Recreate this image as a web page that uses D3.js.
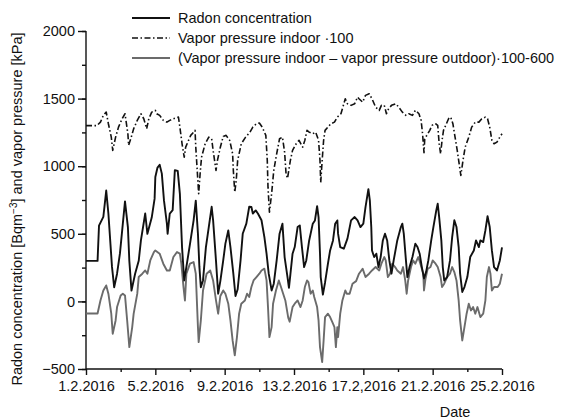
<!DOCTYPE html>
<html>
<head>
<meta charset="utf-8">
<script src="https://cdn.jsdelivr.net/npm/d3@7"></script>
<style>
  body { margin: 0; background: #fff; }
  svg text { font-family: "Liberation Sans", Arial, sans-serif; fill: #111; }
</style>
</head>
<body>
<svg width="577" height="420"></svg>
<script>
// [day of February 2016, value]
const radon = [[1,300],[1.69,300],[1.75,560],[2.04,625],[2.19,820],[2.33,650],[2.52,255],[2.66,105],[2.81,205],[2.96,355],[3.15,575],[3.29,740],[3.42,550],[3.54,300],[3.63,80],[3.87,205],[4.06,300],[4.19,450],[4.44,650],[4.58,500],[4.83,620],[4.96,760],[5.02,920],[5.15,990],[5.29,1010],[5.38,945],[5.54,745],[5.67,575],[5.73,500],[5.87,650],[6.0,675],[6.15,970],[6.31,965],[6.44,795],[6.58,400],[6.69,155],[6.83,255],[7.02,425],[7.21,600],[7.35,745],[7.46,500],[7.56,255],[7.65,105],[7.79,155],[7.92,400],[8.12,550],[8.27,700],[8.37,600],[8.5,300],[8.65,57],[8.75,150],[8.92,303],[9.08,427],[9.21,525],[9.35,402],[9.5,205],[9.65,40],[9.79,90],[9.92,303],[10.08,500],[10.27,575],[10.42,700],[10.56,698],[10.65,650],[10.81,673],[10.94,650],[11.13,600],[11.33,476],[11.42,353],[11.58,205],[11.71,81],[11.85,131],[12.0,303],[12.19,501],[12.35,575],[12.48,328],[12.63,180],[12.72,100],[12.81,200],[12.94,353],[13.08,402],[13.23,550],[13.35,562],[13.46,402],[13.62,254],[13.71,303],[13.9,451],[14.1,575],[14.23,599],[14.35,705],[14.44,624],[14.5,353],[14.58,180],[14.69,50],[14.81,140],[14.96,279],[15.12,377],[15.25,451],[15.38,575],[15.5,599],[15.58,501],[15.69,402],[15.88,390],[16.12,464],[16.31,599],[16.5,624],[16.69,599],[16.87,550],[17.0,575],[17.15,698],[17.31,830],[17.38,747],[17.46,550],[17.54,377],[17.65,328],[17.77,353],[17.88,254],[18.02,328],[18.15,451],[18.27,501],[18.4,451],[18.54,303],[18.65,205],[18.79,303],[18.98,451],[19.17,550],[19.27,575],[19.37,501],[19.46,303],[19.56,180],[19.69,254],[19.85,328],[20.0,427],[20.13,402],[20.27,353],[20.38,254],[20.52,170],[20.65,220],[20.79,303],[20.92,451],[21.08,550],[21.23,673],[21.31,722],[21.38,624],[21.5,451],[21.62,254],[21.69,155],[21.85,180],[22.0,303],[22.13,476],[22.27,600],[22.38,550],[22.5,402],[22.62,205],[22.73,70],[22.85,106],[23.0,180],[23.19,328],[23.38,377],[23.54,451],[23.67,402],[23.77,451],[23.92,439],[24.06,525],[24.19,630],[24.31,550],[24.44,377],[24.58,254],[24.73,229],[24.88,303],[25.0,400]];

const vaporIndoor = [[1,1300],[1.65,1300],[1.85,1326],[2.04,1376],[2.19,1400],[2.33,1314],[2.46,1215],[2.58,1117],[2.71,1215],[2.9,1289],[3.1,1351],[3.29,1388],[3.42,1240],[3.48,1154],[3.61,1203],[3.77,1277],[3.96,1339],[4.19,1388],[4.35,1351],[4.5,1277],[4.63,1351],[4.83,1400],[5.02,1413],[5.1,1388],[5.29,1376],[5.48,1339],[5.67,1326],[5.87,1339],[6.06,1351],[6.35,1363],[6.44,1289],[6.58,1166],[6.67,1067],[6.79,1141],[6.92,1191],[7.08,1228],[7.21,1252],[7.31,1265],[7.37,1141],[7.42,969],[7.5,797],[7.6,944],[7.69,1067],[7.88,1166],[8.12,1215],[8.27,1203],[8.37,1117],[8.5,969],[8.62,1043],[8.75,1140],[8.92,1220],[9.12,1228],[9.31,1191],[9.46,1092],[9.54,969],[9.6,808],[9.69,895],[9.79,1043],[9.98,1166],[10.23,1215],[10.46,1252],[10.65,1289],[10.85,1314],[11.0,1319],[11.19,1289],[11.38,1228],[11.46,1043],[11.54,845],[11.62,660],[11.71,797],[11.85,969],[12.0,1092],[12.19,1203],[12.35,1215],[12.48,1104],[12.58,944],[12.65,910],[12.81,1043],[12.94,1117],[13.13,1166],[13.33,1191],[13.52,1141],[13.65,1191],[13.77,1265],[13.9,1252],[14.1,1240],[14.29,1252],[14.42,1191],[14.5,1043],[14.58,880],[14.63,1043],[14.71,1191],[14.81,1265],[14.96,1289],[15.15,1314],[15.35,1326],[15.54,1363],[15.73,1388],[15.88,1462],[15.96,1499],[16.12,1462],[16.31,1450],[16.5,1462],[16.69,1511],[16.77,1499],[16.96,1474],[17.15,1524],[17.35,1536],[17.54,1499],[17.73,1437],[17.92,1413],[18.08,1450],[18.21,1450],[18.35,1388],[18.48,1425],[18.65,1450],[18.88,1462],[19.08,1437],[19.27,1400],[19.46,1376],[19.65,1388],[19.85,1376],[20.04,1413],[20.23,1388],[20.35,1339],[20.42,1240],[20.5,1100],[20.58,1200],[20.69,1230],[20.85,1265],[20.98,1302],[21.17,1314],[21.31,1302],[21.38,1166],[21.46,1092],[21.56,1191],[21.65,1265],[21.81,1314],[21.94,1351],[22.08,1363],[22.19,1314],[22.33,1215],[22.42,1117],[22.54,1043],[22.65,932],[22.77,1043],[22.9,1141],[23.1,1215],[23.29,1289],[23.48,1326],[23.67,1326],[23.87,1351],[24.06,1363],[24.19,1351],[24.31,1289],[24.44,1191],[24.58,1166],[24.73,1178],[24.88,1215],[25.0,1240]];

const vaporDiff = [[1,-90],[1.69,-90],[1.85,7],[2.04,81],[2.19,118],[2.33,57],[2.46,-91],[2.58,-239],[2.71,-141],[2.81,-42],[3.0,44],[3.15,57],[3.29,44],[3.38,-141],[3.54,-338],[3.67,-190],[3.77,-91],[3.96,57],[4.06,180],[4.25,205],[4.44,229],[4.58,205],[4.73,303],[4.92,365],[5.04,377],[5.29,353],[5.48,279],[5.67,229],[5.87,229],[6.06,328],[6.25,365],[6.44,353],[6.54,279],[6.63,106],[6.73,7],[6.83,205],[7.02,279],[7.21,291],[7.37,205],[7.46,-190],[7.54,-301],[7.65,-141],[7.79,81],[7.98,205],[8.17,229],[8.37,155],[8.5,7],[8.65,-91],[8.78,40],[8.92,81],[9.08,57],[9.21,-17],[9.35,-141],[9.46,-289],[9.6,-399],[9.73,-264],[9.85,-91],[9.98,-17],[10.17,7],[10.31,57],[10.42,32],[10.56,106],[10.69,155],[10.85,180],[11.0,205],[11.13,229],[11.33,242],[11.42,155],[11.52,-42],[11.62,-264],[11.71,-190],[11.81,-17],[11.96,81],[12.15,155],[12.29,106],[12.38,57],[12.52,7],[12.67,-120],[12.78,-150],[12.94,-42],[13.08,-17],[13.23,7],[13.38,-42],[13.52,7],[13.65,106],[13.77,155],[13.85,143],[13.96,57],[14.1,81],[14.19,32],[14.35,-42],[14.44,-141],[14.54,-338],[14.63,-449],[14.73,-289],[14.83,-116],[14.96,-91],[15.12,-116],[15.25,-165],[15.35,-190],[15.44,-338],[15.5,-190],[15.58,-264],[15.69,-91],[15.83,7],[15.96,81],[16.08,57],[16.21,57],[16.4,131],[16.6,150],[16.77,205],[16.96,242],[17.15,180],[17.35,205],[17.54,229],[17.73,254],[17.92,229],[18.08,279],[18.21,328],[18.31,303],[18.44,180],[18.56,205],[18.69,279],[18.85,254],[18.98,229],[19.17,205],[19.31,254],[19.42,155],[19.52,57],[19.62,155],[19.75,254],[19.88,303],[20.04,279],[20.19,328],[20.33,279],[20.46,205],[20.53,81],[20.62,165],[20.73,240],[20.88,254],[21.04,303],[21.17,279],[21.31,254],[21.46,180],[21.58,106],[21.69,131],[21.85,180],[22.0,205],[22.15,254],[22.27,217],[22.38,155],[22.5,7],[22.62,-141],[22.73,-289],[22.85,-190],[22.96,-91],[23.1,-17],[23.23,-67],[23.35,-42],[23.48,-91],[23.62,-42],[23.77,-116],[23.92,-91],[24.06,7],[24.15,180],[24.25,254],[24.35,205],[24.44,81],[24.58,106],[24.77,106],[24.88,131],[25.0,205]];

const yTicks = [-500, 0, 500, 1000, 1500, 2000];
const xTickDays = [1, 5, 9, 13, 17, 21, 25];
const xTickLabels = ["1.2.2016", "5.2.2016", "9.2.2016", "13.2.2016", "17.2,2016", "21.2.2016", "25.2.2016"];
const legendLabels = [
  "Radon concentration",
  "Vapor pressure indoor \u00b7100",
  "(Vapor pressure indoor \u2013 vapor pressure outdoor)\u00b7100-600"
];

const svg = d3.select("svg");
const dayToDate = (d) => new Date(2016, 1, 1, (d - 1) * 24);

const x = d3.scaleTime()
  .domain([dayToDate(1), dayToDate(25)])
  .range([86, 502]);
const y = d3.scaleLinear().domain([-500, 2000]).range([369, 31]);

// y axis: labelled ticks plus short minor ticks
svg.append("g")
  .attr("transform", "translate(86,0)")
  .call(d3.axisLeft(y).tickValues(d3.range(-500, 2001, 250)).tickSize(4).tickFormat(""))
  .call((g) => g.select(".domain").remove());
svg.append("g")
  .attr("transform", "translate(86,0)")
  .call(d3.axisLeft(y).tickValues(yTicks).tickSize(8).tickPadding(3)
    .tickFormat((d) => (d < 0 ? "\u2212" + Math.abs(d) : d)))
  .call((g) => g.select(".domain").attr("d", `M0,${y(2000)}V${y(-500)}`));

// x axis: a label every 4 days, a minor tick every 2
svg.append("g")
  .attr("transform", "translate(0,369)")
  .call(d3.axisBottom(x).tickValues(d3.range(3, 25, 4).map(dayToDate)).tickSize(3).tickFormat(""))
  .call((g) => g.select(".domain").remove());
svg.append("g")
  .attr("transform", "translate(0,369)")
  .call(d3.axisBottom(x).tickValues(xTickDays.map(dayToDate)).tickSize(6).tickPadding(6)
    .tickFormat((d, i) => xTickLabels[i]))
  .call((g) => g.select(".domain").attr("d", `M${x(dayToDate(1))},0H${x(dayToDate(25))}`));

svg.selectAll(".domain, .tick line").attr("stroke", "#111").attr("stroke-width", 1.4);
svg.selectAll(".tick text").attr("font-size", 14.5).attr("fill", "#111");

const line = d3.line()
  .x((d) => x(dayToDate(d[0])))
  .y((d) => y(d[1]));

const series = [
  { data: vaporDiff, color: "#6b6b6b", width: 1.9, dash: null },
  { data: vaporIndoor, color: "#111", width: 1.6, dash: "6,2.5,1.5,2.5" },
  { data: radon, color: "#111", width: 1.9, dash: null }
];

svg.append("g")
  .selectAll("path")
  .data(series)
  .enter()
  .append("path")
  .attr("d", (d) => line(d.data))
  .attr("fill", "none")
  .attr("stroke", (d) => d.color)
  .attr("stroke-width", (d) => d.width)
  .attr("stroke-dasharray", (d) => d.dash)
  .attr("stroke-linejoin", "round");

// Legend
const legendItems = [series[2], series[1], series[0]];
const legend = svg.append("g").attr("transform", "translate(132,18)");
legend.selectAll("line")
  .data(legendItems)
  .enter()
  .append("line")
  .attr("x1", 0)
  .attr("x2", 38)
  .attr("y1", (d, i) => i * 20)
  .attr("y2", (d, i) => i * 20)
  .attr("stroke", (d) => d.color)
  .attr("stroke-width", (d) => d.width)
  .attr("stroke-dasharray", (d) => d.dash);
legend.selectAll("text")
  .data(legendLabels)
  .enter()
  .append("text")
  .attr("x", 46)
  .attr("y", (d, i) => i * 20)
  .attr("dy", "0.35em")
  .attr("font-size", 14.5)
  .text((d) => d);

// Axis titles
const yTitle = svg.append("text")
  .attr("transform", "translate(22,209) rotate(-90)")
  .attr("text-anchor", "middle")
  .attr("font-size", 14.5);
yTitle.append("tspan").text("Radon concentration [Bqm");
yTitle.append("tspan").attr("dy", -5).attr("font-size", 10).text("\u22123");
yTitle.append("tspan").attr("dy", 5).text("] and vapor pressure [kPa]");

svg.append("text")
  .attr("x", 455)
  .attr("y", 417)
  .attr("text-anchor", "middle")
  .attr("font-size", 14.5)
  .text("Date");
</script>
</body>
</html>
